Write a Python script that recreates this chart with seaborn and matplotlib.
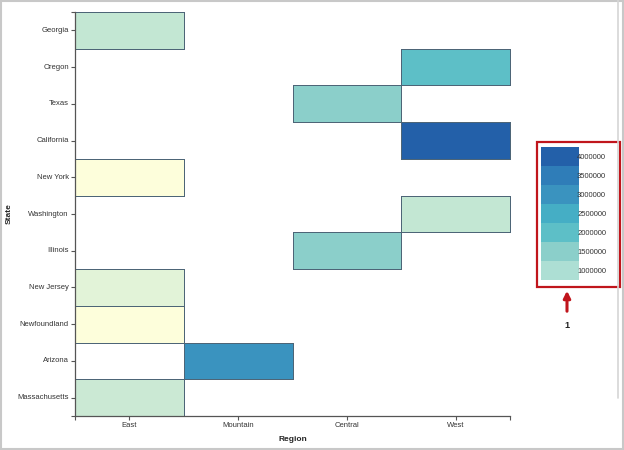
import numpy as np
import pandas as pd
import matplotlib
matplotlib.use("Agg")
import matplotlib.pyplot as plt
import seaborn as sns
from matplotlib.colors import LinearSegmentedColormap
from matplotlib.patches import Rectangle, FancyArrowPatch

# data
states = ["Georgia", "Oregon", "Texas", "California", "New York", "Washington",
          "Illinois", "New Jersey", "Newfoundland", "Arizona", "Massachusetts"]
regions = ["East", "Mountain", "Central", "West"]

cell_states = ["Georgia", "Oregon", "Texas", "California", "New York", "Washington",
               "Illinois", "New Jersey", "Newfoundland", "Arizona", "Massachusetts"]
cell_regions = ["East", "West", "Central", "West", "East", "West",
                "Central", "East", "East", "Mountain", "East"]
cell_values = [900000, 2000000, 1500000, 4000000, 50000, 900000,
               1500000, 600000, 50000, 3000000, 850000]

legend_values = [4000000, 3500000, 3000000, 2500000, 2000000, 1500000, 1000000]

sns.set_style("white")
plt.rcParams['font.family'] = ['Liberation Sans', 'DejaVu Sans']

vmax = 4000000
anchors = [(0.0, "#ffffdb"), (0.15, "#e2f3d8"), (0.2125, "#cbe9d4"),
           (0.225, "#c2e7d3"), (0.25, "#addfd4"), (0.375, "#8ccfca"),
           (0.5, "#5dbfc7"), (0.625, "#45afc5"), (0.75, "#3a93bf"),
           (0.875, "#2f7eb8"), (1.0, "#2360a9")]
cmap = LinearSegmentedColormap.from_list("region_pop", anchors)

df = pd.DataFrame({"State": cell_states, "Region": cell_regions, "Value": cell_values})
grid = df.pivot(index="State", columns="Region", values="Value")
grid = grid.reindex(index=states, columns=regions)

W, H = 624, 450
fig = plt.figure(figsize=(W / 100, H / 100), dpi=100)
ax = fig.add_axes([75 / W, 1 - 416 / H, 435 / W, 404 / H])

sns.heatmap(grid, ax=ax, cmap=cmap, vmin=0, vmax=vmax, cbar=False,
            linewidths=0.55, linecolor="#4d6577")

# only outline the cells that hold a value
mesh = ax.collections[0]
edge = ["#4d6577" if ok else (0, 0, 0, 0) for ok in grid.notna().values.ravel()]
mesh.set_edgecolor(edge)
mesh.set_clip_on(False)

axis_col = "#555555"
for side in ["top", "right"]:
    ax.spines[side].set_visible(False)
for side in ["left", "bottom"]:
    ax.spines[side].set_visible(True)
    ax.spines[side].set_color(axis_col)
    ax.spines[side].set_linewidth(0.9)

ax.set_xticks(np.arange(len(regions)) + 0.5)
ax.set_xticklabels(regions, rotation=0)
ax.set_yticks(np.arange(len(states)) + 0.5)
ax.set_yticklabels(states, rotation=0)
ax.set_xticks([0, len(regions)], minor=True)
ax.set_yticks([0, len(states)], minor=True)
ax.tick_params(which="both", length=3, width=0.8, color=axis_col,
               labelsize=5.5, labelcolor="#333333", pad=1.5,
               left=True, bottom=True)
ax.tick_params(which="minor", labelleft=False, labelbottom=False)

ax.set_xlabel("Region", fontsize=6, fontweight="bold", labelpad=5)
ax.set_ylabel("State", fontsize=6, fontweight="bold")
ax.yaxis.set_label_coords(-62 / 435, 0.5)

# legend swatches
lax = fig.add_axes([541 / W, 1 - 280 / H, 38 / W, 133 / H])
leg = pd.DataFrame({"v": legend_values})
sns.heatmap(leg, ax=lax, cmap=cmap, vmin=0, vmax=vmax, cbar=False)
lax.set_xticks([])
lax.set_yticks([])
lax.set_xlabel("")
lax.set_ylabel("")
for i, v in enumerate(legend_values):
    lax.text(0.95, i + 0.55, str(v), fontsize=5.5, color="#333333",
             ha="left", va="center", clip_on=False)

# annotation box and arrow
red = "#c0151c"
fig.patches.append(Rectangle((537 / W, 1 - 287 / H), 83 / W, 145 / H,
                             transform=fig.transFigure, fill=False,
                             edgecolor=red, linewidth=1.6))
fig.patches.append(FancyArrowPatch((567 / W, 1 - 314 / H), (567 / W, 1 - 288 / H),
                                   transform=fig.transFigure, arrowstyle="-|>",
                                   mutation_scale=10, color=red, linewidth=2.2))
fig.text(567 / W, 1 - 326 / H, "1", fontsize=6.5, fontweight="bold",
         ha="center", va="center", color="#222222")

# screenshot frame
frame = "#c8c8c8"
fig.patches.append(Rectangle((1 / W, 1 / H), (W - 2) / W, (H - 2) / H,
                             transform=fig.transFigure, fill=False,
                             edgecolor=frame, linewidth=1.5))
fig.add_artist(plt.Line2D([618 / W, 618 / W], [1 - 398 / H, 1], color="#d6d6d6",
                          linewidth=1.2, transform=fig.transFigure))

fig.savefig("out.png", dpi=100)
